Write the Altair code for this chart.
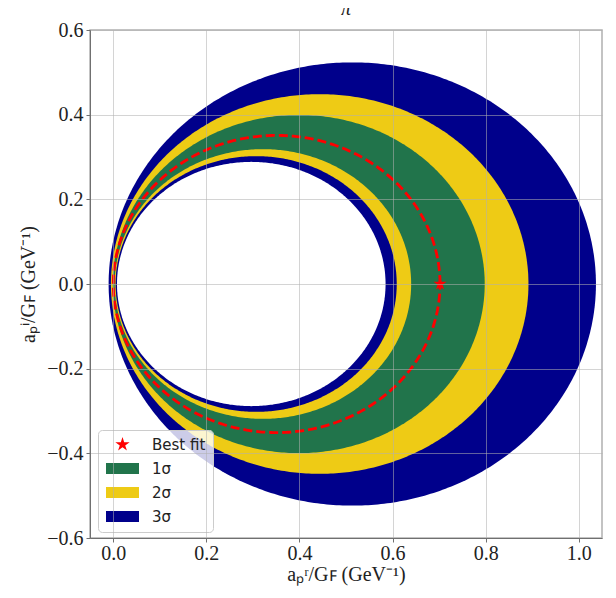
import numpy as np
import pandas as pd
import altair as alt

# circles given by their left / right x-intercepts on the real axis
band_labels = ["3σ", "2σ", "1σ", "2σ", "3σ", "inner"]
band_left = [-0.010, -0.005, -0.001, 0.003, 0.005, 0.008]
band_right = [1.037, 0.892, 0.798, 0.640, 0.609, 0.585]

best_fit_x = [0.702]
best_fit_y = [0.0]
best_circle_left = 0.0
best_circle_right = 0.702

legend_domain = ["Best fit", "1σ", "2σ", "3σ"]
legend_colors = ["#ff0000", "#21744b", "#eecb15", "#00008b"]

# symbol shapes (unit-square SVG paths)
STAR = ("M0,-1L0.2245,-0.309L0.9511,-0.309L0.3633,0.118L0.5878,0.809L0,0.382"
        "L-0.5878,0.809L-0.3633,0.118L-0.9511,-0.309L-0.2245,-0.309Z")
RECT = "M-2.2,-0.73L2.2,-0.73L2.2,0.73L-2.2,0.73Z"
legend_shapes = [STAR, RECT, RECT, RECT]

color_of = dict(zip(legend_domain, legend_colors))
color_of["inner"] = "#ffffff"

x_ticks = [0.0, 0.2, 0.4, 0.6, 0.8, 1.0]
y_ticks = [-0.6, -0.4, -0.2, 0.0, 0.2, 0.4, 0.6]

FONT = "Liberation Serif"


def disc(left, right, n=241):
    c = (left + right) / 2
    r = (right - left) / 2
    t = np.linspace(0, np.pi, n)
    return pd.DataFrame({"x": c - r * np.cos(t), "y": r * np.sin(t), "y2": -r * np.sin(t)})


xs = alt.Scale(domain=[-0.05, 1.05], nice=False, zero=False)
ys = alt.Scale(domain=[-0.6, 0.6], nice=False, zero=False)

x_axis = alt.Axis(values=x_ticks, format=".1f", title="aₚʳ/Gꜰ  (GeV⁻¹)", labelFont=FONT,
                  labelFontSize=20, titleFont=FONT, titleFontSize=20, titleFontWeight="normal",
                  labelColor="#222", titleColor="#222", gridColor="#b0b0b0", gridOpacity=0.55,
                  domainColor="#707070", tickColor="#707070", tickSize=4, labelPadding=1,
                  titlePadding=1, zindex=1)
y_axis = alt.Axis(values=y_ticks, format=".1f", title="aₚⁱ/Gꜰ  (GeV⁻¹)", labelFont=FONT,
                  labelFontSize=20, titleFont=FONT, titleFontSize=20, titleFontWeight="normal",
                  labelColor="#222", titleColor="#222", gridColor="#b0b0b0", gridOpacity=0.55,
                  domainColor="#707070", tickColor="#707070", tickSize=4, labelPadding=3,
                  titlePadding=8, zindex=1)

layers = []
for i, (lab, l, r) in enumerate(zip(band_labels, band_left, band_right)):
    df = disc(l, r)
    base = alt.Chart(df).mark_area(opacity=1, color=color_of[lab]).encode(
        x=alt.X("x:Q", scale=xs, axis=x_axis),
        y=alt.Y("y:Q", scale=ys, axis=y_axis),
        y2="y2:Q",
    )
    layers.append(base)

# dashed best-fit circle
bc = (best_circle_left + best_circle_right) / 2
br = (best_circle_right - best_circle_left) / 2
tt = np.linspace(0, 2 * np.pi, 361)
dash_df = pd.DataFrame({"x": bc + br * np.cos(tt), "y": br * np.sin(tt), "o": np.arange(len(tt))})
dash = alt.Chart(dash_df).mark_line(color="#ff0000", strokeWidth=2.8, strokeDash=[9, 4]).encode(
    x=alt.X("x:Q", scale=xs, axis=x_axis), y=alt.Y("y:Q", scale=ys, axis=y_axis), order="o:Q")
layers.append(dash)

star_df = pd.DataFrame({"x": best_fit_x, "y": best_fit_y, "label": ["Best fit"]})
star = alt.Chart(star_df).mark_point(filled=True, opacity=1, size=190, strokeWidth=0).encode(
    x=alt.X("x:Q", scale=xs, axis=x_axis), y=alt.Y("y:Q", scale=ys, axis=y_axis),
    color=alt.Color("label:N", scale=alt.Scale(domain=legend_domain, range=legend_colors),
                    legend=alt.Legend(title=None)),
    shape=alt.Shape("label:N", scale=alt.Scale(domain=legend_domain, range=legend_shapes),
                    legend=alt.Legend(title=None)),
)
layers.append(star)

chart = alt.layer(*layers).properties(
    width=512, height=508,
    title=alt.TitleParams("π", font=FONT, fontSize=20, fontStyle="italic", fontWeight="normal",
                          color="#222", offset=1),
    autosize=alt.AutoSizeParams(type="none"),
    padding={"left": 82, "top": 22, "right": 6, "bottom": 52},
).configure_view(stroke="#b0b0b0", strokeWidth=1.5).configure_legend(
    orient="none", legendX=8, legendY=400, padding=7, fillColor="rgba(255,255,255,0.8)",
    strokeColor="#cccccc", cornerRadius=4, labelFont="DejaVu Sans", labelFontSize=15,
    labelColor="#222", symbolSize=225, symbolOffset=10, labelOffset=22, rowPadding=8,
    symbolStrokeWidth=0, symbolOpacity=1, labelLimit=200,
)

chart.save("out.html", embed_options={"renderer": "svg", "actions": False})
